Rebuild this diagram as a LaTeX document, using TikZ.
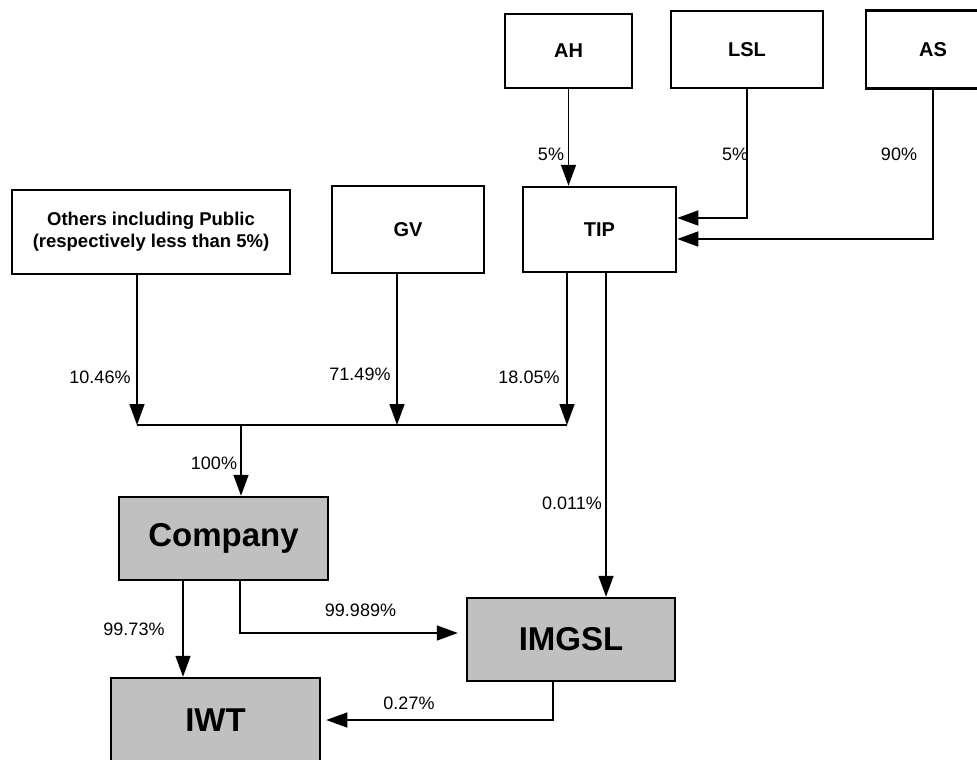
\documentclass[tikz,border=0pt]{standalone}
\usepackage{fontspec}
\setmainfont{Liberation Sans}
\usetikzlibrary{arrows.meta}
\definecolor{boxgray}{RGB}{192,192,192}

\begin{document}
\begin{tikzpicture}[x=1pt,y=-1pt]
% styles
\tikzset{owner/.style={draw,line width=2.5pt,fill=white,inner sep=0pt,
    font=\bfseries\fontsize{20}{24}\selectfont},
  firm/.style={owner,fill=boxgray,font=\bfseries\fontsize{33}{38}\selectfont},
  arr/.style={line width=1.5pt,-{Triangle[length=21pt,width=15pt]}},
  link/.style={line width=1.4pt},
  pct/.style={inner sep=0pt,font=\fontsize{18}{21}\selectfont}}
\useasboundingbox (0,0) rectangle (977,760);
\clip (0,0) rectangle (977,760);
% top owners
\node[owner,minimum width=127pt,minimum height=74pt] (ah) at (568.5,51) {AH};
\node[owner,minimum width=152pt,minimum height=77pt] (lsl) at (747,49.5) {LSL};
\node[owner,minimum width=134pt,minimum height=78pt] (as) at (933,49.5) {AS};
% second row
\node[owner,minimum width=278pt,minimum height=84pt,align=center,
  font=\bfseries\fontsize{18.5}{22}\selectfont] (others) at (151,232)
  {Others including Public\\(respectively less than 5\%)};
\node[owner,minimum width=152pt,minimum height=87pt] (gv) at (408,229.5) {GV};
\node[owner,minimum width=153pt,minimum height=85pt] (tip) at (599.5,229.5) {TIP};
% companies
\node[firm,minimum width=209pt,minimum height=83pt] (company) at (223.5,538.5) {Company};
\node[firm,minimum width=208pt,minimum height=83pt] (imgsl) at (571,639.5) {IMGSL};
\node[firm,minimum width=209pt,minimum height=84pt] (iwt) at (215.5,720) {IWT};
% into TIP
\draw[arr] (ah.south) -- (ah.south |- tip.north);
\draw[arr] (lsl.south) |- ([yshift=11.5pt]tip.east);
\draw[arr] (as.south) |- ([yshift=-9.5pt]tip.east);
% the bar above Company
\coordinate (barL) at (137,425);
\coordinate (barM) at (241,425);
\coordinate (barR) at (567,425);
\draw[link] (barL) -- (barR);
\draw[arr] (others.south -| barL) -- (barL);
\draw[arr] ([xshift=-11pt]gv.south) -- ([xshift=-11pt]gv.south |- barL);
\draw[arr] (tip.south -| barR) -- (barR);
\draw[arr] (barM) -- (barM |- company.north);
% TIP to IMGSL
\draw[arr] ([xshift=6.5pt]tip.south) -- ([xshift=6.5pt]tip.south |- imgsl.north);
% Company to IWT and IMGSL
\draw[arr] ([xshift=-40.5pt]company.south) -- ([xshift=-40.5pt]company.south |- iwt.north);
\draw[arr,shorten >=8pt] ([xshift=16.5pt]company.south) |- ([yshift=6.5pt]imgsl.west);
\draw[arr,shorten >=5pt] ([xshift=-18pt]imgsl.south) |- (iwt.east);
% the percentages
\node[pct] (pah) at (551,154) {5\%};
\node[pct] (plsl) at (735,154) {5\%};
\node[pct] (pas) at (899,154) {90\%};
\node[pct] (poth) at (100,377) {10.46\%};
\node[pct] (pgv) at (360,374) {71.49\%};
\node[pct] (ptip) at (529,377) {18.05\%};
\node[pct] (pbar) at (214,463) {100\%};
\node[pct] (pimg) at (572,503) {0.011\%};
\node[pct] (pcomp) at (134,629) {99.73\%};
\node[pct] (pcimg) at (360.5,610) {99.989\%};
\node[pct] (piwt) at (409,703) {0.27\%};
\end{tikzpicture}
\end{document}
